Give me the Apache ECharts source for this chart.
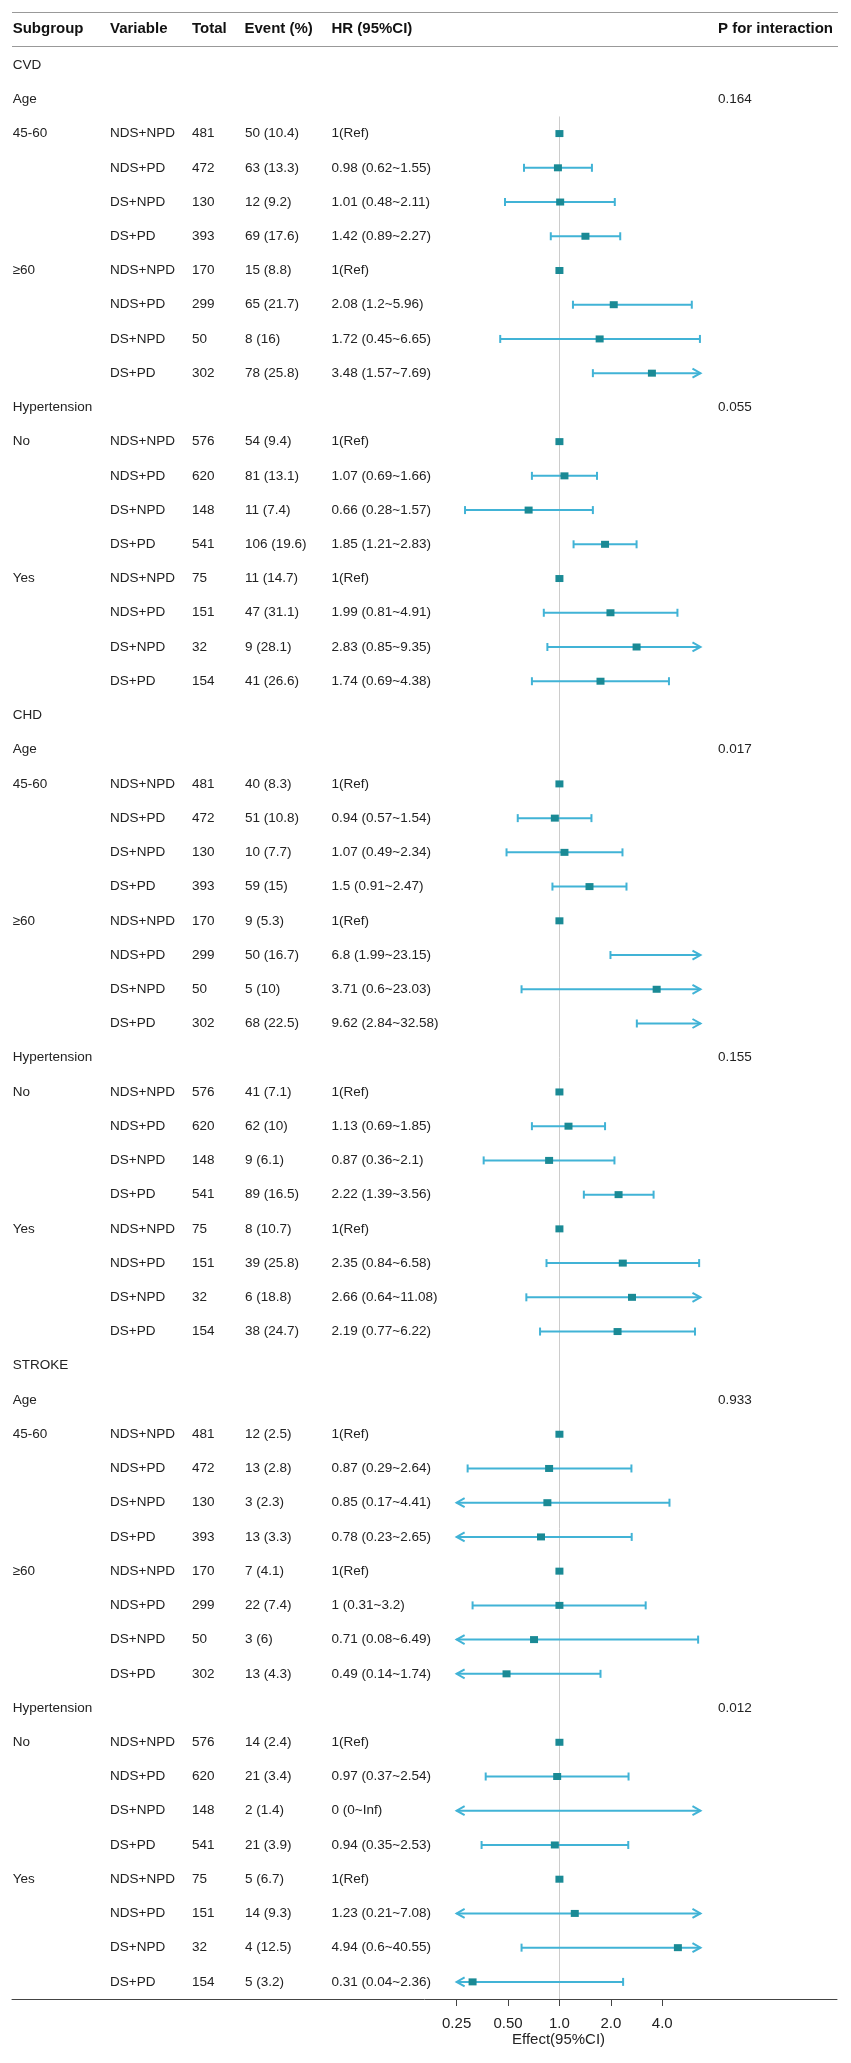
<!DOCTYPE html>
<html>
<head>
    <meta charset="utf-8" />
    <script src="https://cdn.jsdelivr.net/npm/echarts/dist/echarts.min.js"></script>
    <style>
        html, body { margin: 0; padding: 0; background: #fff; }
    </style>
</head>
<body>
<div id="main" style="width: 851px;height:2063px;"></div>

<script>
    // ---- data ----
    const outcomes = ['CVD', 'CHD', 'STROKE'];
    const factors = ['Age', 'Hypertension'];
    const levels = [['45-60', '≥60'], ['No', 'Yes']];
    const variables = ['NDS+NPD', 'NDS+PD', 'DS+NPD', 'DS+PD'];
    const totals = [481, 472, 130, 393, 170, 299, 50, 302, 576, 620, 148, 541, 75, 151, 32, 154];

    const pInteraction = [[0.164, 0.055], [0.017, 0.155], [0.933, 0.012]];

    const cvdEvents = [50, 63, 12, 69, 15, 65, 8, 78, 54, 81, 11, 106, 11, 47, 9, 41];
    const cvdPct = [10.4, 13.3, 9.2, 17.6, 8.8, 21.7, 16, 25.8, 9.4, 13.1, 7.4, 19.6, 14.7, 31.1, 28.1, 26.6];
    const cvdHR = [1, 0.98, 1.01, 1.42, 1, 2.08, 1.72, 3.48, 1, 1.07, 0.66, 1.85, 1, 1.99, 2.83, 1.74];
    const cvdLow = [null, 0.62, 0.48, 0.89, null, 1.2, 0.45, 1.57, null, 0.69, 0.28, 1.21, null, 0.81, 0.85, 0.69];
    const cvdHigh = [null, 1.55, 2.11, 2.27, null, 5.96, 6.65, 7.69, null, 1.66, 1.57, 2.83, null, 4.91, 9.35, 4.38];

    const chdEvents = [40, 51, 10, 59, 9, 50, 5, 68, 41, 62, 9, 89, 8, 39, 6, 38];
    const chdPct = [8.3, 10.8, 7.7, 15, 5.3, 16.7, 10, 22.5, 7.1, 10, 6.1, 16.5, 10.7, 25.8, 18.8, 24.7];
    const chdHR = [1, 0.94, 1.07, 1.5, 1, 6.8, 3.71, 9.62, 1, 1.13, 0.87, 2.22, 1, 2.35, 2.66, 2.19];
    const chdLow = [null, 0.57, 0.49, 0.91, null, 1.99, 0.6, 2.84, null, 0.69, 0.36, 1.39, null, 0.84, 0.64, 0.77];
    const chdHigh = [null, 1.54, 2.34, 2.47, null, 23.15, 23.03, 32.58, null, 1.85, 2.1, 3.56, null, 6.58, 11.08, 6.22];

    const strokeEvents = [12, 13, 3, 13, 7, 22, 3, 13, 14, 21, 2, 21, 5, 14, 4, 5];
    const strokePct = [2.5, 2.8, 2.3, 3.3, 4.1, 7.4, 6, 4.3, 2.4, 3.4, 1.4, 3.9, 6.7, 9.3, 12.5, 3.2];
    const strokeHR = [1, 0.87, 0.85, 0.78, 1, 1, 0.71, 0.49, 1, 0.97, 0, 0.94, 1, 1.23, 4.94, 0.31];
    const strokeLow = [null, 0.29, 0.17, 0.23, null, 0.31, 0.08, 0.14, null, 0.37, 0, 0.35, null, 0.21, 0.6, 0.04];
    const strokeHigh = [null, 2.64, 4.41, 2.65, null, 3.2, 6.49, 1.74, null, 2.54, Infinity, 2.53, null, 7.08, 40.55, 2.36];

    const tickValues = [0.25, 0.5, 1, 2, 4];
    const tickLabels = ['0.25', '0.50', '1.0', '2.0', '4.0'];

    // plotted window of the effect axis (values beyond get an arrow)
    const CLIP_LO = 0.25;
    const CLIP_HI = 6.7;

    const blocks = [
        { events: cvdEvents, pct: cvdPct, hr: cvdHR, low: cvdLow, high: cvdHigh },
        { events: chdEvents, pct: chdPct, hr: chdHR, low: chdLow, high: chdHigh },
        { events: strokeEvents, pct: strokePct, hr: strokeHR, low: strokeLow, high: strokeHigh }
    ];

    // ---- build table rows ----
    var colSub = [], colVar = [], colTotal = [], colEvent = [], colHR = [], colP = [];
    var ciData = [], pointData = [];

    function addRow(sub, v, total, ev, hrText, p) {
        colSub.push(sub); colVar.push(v); colTotal.push(total);
        colEvent.push(ev); colHR.push(hrText); colP.push(p);
        return colSub.length - 1;
    }

    function fmtHi(x) {
        return x === Infinity ? 'Inf' : String(x);
    }

    outcomes.forEach(function(name, o) {
        var b = blocks[o];
        addRow(name, '', '', '', '', '');
        factors.forEach(function(f, fi) {
            addRow(f, '', '', '', '', String(pInteraction[o][fi]));
            levels[fi].forEach(function(lv, li) {
                variables.forEach(function(vn, vi) {
                    var k = fi * 8 + li * 4 + vi;
                    var hr = b.hr[k], lo = b.low[k], hi = b.high[k];
                    var hrText = lo === null ? hr + '(Ref)' : hr + ' (' + lo + '~' + fmtHi(hi) + ')';
                    var row = addRow(vi === 0 ? lv : '', vn, String(totals[k]),
                        b.events[k] + ' (' + b.pct[k] + ')', hrText, '');
                    if (lo !== null) {
                        var loC = Math.max(lo, CLIP_LO), hiC = Math.min(hi, CLIP_HI);
                        ciData.push([row, Math.log2(loC), Math.log2(hiC),
                            lo < CLIP_LO ? 1 : 0, hi > CLIP_HI ? 1 : 0]);
                    }
                    if (hr >= CLIP_LO && hr <= CLIP_HI) {
                        pointData.push([Math.log2(hr), row]);
                    }
                });
            });
        });
    });

    var nRows = colSub.length;

    // ---- chart ----
    var chartDom = document.getElementById('main');
    var myChart = echarts.init(chartDom);
    var option;

    var FONT = '"Liberation Sans", Arial, sans-serif';
    var lineColor = '#41b3d6';
    var boxColor = '#1a8a95';
    var textColor = '#222';

    function textAxis(col, x) {
        return {
            type: 'category',
            gridIndex: 0,
            position: 'left',
            inverse: true,
            data: col,
            axisLine: { show: false },
            axisTick: { show: false },
            splitLine: { show: false },
            axisLabel: {
                inside: true,
                interval: 0,
                margin: x - 12,
                color: textColor,
                fontSize: 13.5,
                fontFamily: FONT
            }
        };
    }

    function renderCI(params, api) {
        var row = api.value(0);
        var a = api.coord([api.value(1), row]);
        var b = api.coord([api.value(2), row]);
        var loArrow = api.value(3), hiArrow = api.value(4);
        var style = { stroke: lineColor, lineWidth: 2, fill: null };
        var kids = [{
            type: 'line',
            shape: { x1: a[0], y1: a[1], x2: b[0], y2: b[1] },
            style: style
        }];
        // left end
        if (loArrow) {
            kids.push({ type: 'polyline', shape: { points: [[a[0] + 8, a[1] - 4.5], [a[0], a[1]], [a[0] + 8, a[1] + 4.5]] }, style: style });
        } else {
            kids.push({ type: 'line', shape: { x1: a[0], y1: a[1] - 4, x2: a[0], y2: a[1] + 4 }, style: style });
        }
        // right end
        if (hiArrow) {
            kids.push({ type: 'polyline', shape: { points: [[b[0] - 8, b[1] - 4.5], [b[0], b[1]], [b[0] - 8, b[1] + 4.5]] }, style: style });
        } else {
            kids.push({ type: 'line', shape: { x1: b[0], y1: b[1] - 4, x2: b[0], y2: b[1] + 4 }, style: style });
        }
        return { type: 'group', children: kids };
    }

    var headY = 30;
    function headText(str, x) {
        return {
            type: 'text', left: x, top: headY - 9,
            style: { text: str, font: 'bold 15px ' + FONT, fill: '#111' }
        };
    }

    option = {
        animation: false,
        backgroundColor: '#fff',
        textStyle: { fontFamily: FONT },
        grid: { left: 12, right: 14, top: 48, bottom: 64, containLabel: false },
        xAxis: {
            type: 'value',
            min: -10.65,
            max: 5.4,
            axisLine: { show: true, onZero: false, lineStyle: { color: '#444', width: 1 } },
            axisTick: {
                show: true,
                customValues: tickValues.map(Math.log2),
                length: 7,
                lineStyle: { color: '#444' }
            },
            axisLabel: {
                customValues: tickValues.map(Math.log2),
                margin: 17,
                fontSize: 15,
                color: textColor,
                fontFamily: FONT,
                formatter: function(v) {
                    for (var i = 0; i < tickValues.length; i++) {
                        if (Math.abs(Math.log2(tickValues[i]) - v) < 1e-6) return tickLabels[i];
                    }
                    return '';
                }
            },
            splitLine: { show: false }
        },
        yAxis: [{
            type: 'value',
            gridIndex: 0,
            min: -0.5,
            max: nRows - 0.5,
            inverse: true,
            show: false
        },
            textAxis(colSub, 12.7),
            textAxis(colVar, 110),
            textAxis(colTotal, 192),
            textAxis(colEvent, 245),
            textAxis(colHR, 331.5),
            textAxis(colP, 718)
        ],
        graphic: [
            { type: 'line', shape: { x1: 12, y1: 12.5, x2: 838, y2: 12.5 }, style: { stroke: '#999', lineWidth: 1.2 } },
            { type: 'line', shape: { x1: 12, y1: 46.5, x2: 838, y2: 46.5 }, style: { stroke: '#999', lineWidth: 1.2 } },
            headText('Subgroup', 12.7),
            headText('Variable', 110),
            headText('Total', 192),
            headText('Event (%)', 244.5),
            headText('HR (95%CI)', 331.5),
            headText('P for interaction', 718),
            {
                type: 'text', left: 512, top: 2032,
                style: { text: 'Effect(95%CI)', font: '15px ' + FONT, fill: textColor }
            }
        ],
        series: [{
            type: 'custom',
            name: 'CI',
            xAxisIndex: 0,
            yAxisIndex: 0,
            renderItem: renderCI,
            encode: { x: [1, 2], y: 0 },
            data: ciData,
            z: 2
        }, {
            type: 'scatter',
            name: 'HR',
            xAxisIndex: 0,
            yAxisIndex: 0,
            symbol: 'rect',
            symbolSize: [8, 7],
            itemStyle: { color: boxColor, opacity: 1 },
            data: pointData,
            z: 3,
            markLine: {
                silent: true,
                symbol: 'none',
                label: { show: false },
                lineStyle: { color: '#cccccc', width: 1, type: 'solid' },
                data: [[{ coord: [Math.log2(1), 1.5] }, { coord: [Math.log2(1), nRows - 0.5] }]],
                z: 1
            }
        }]
    };

    option && myChart.setOption(option);
</script>
</body>
</html>
